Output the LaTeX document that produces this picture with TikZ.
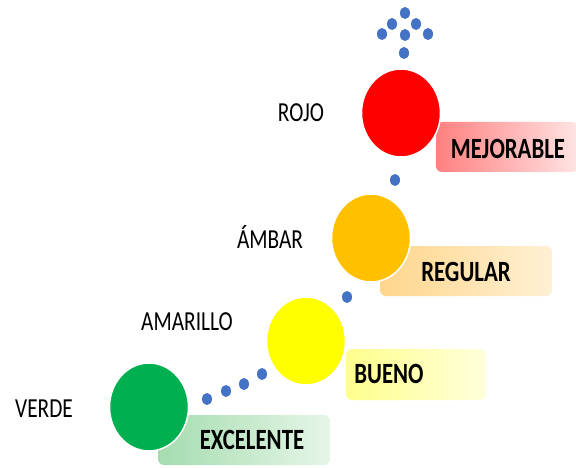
\documentclass[tikz,border=0pt]{standalone}
\usepackage{fontspec}
\setmainfont{Carlito}
\usetikzlibrary{shapes.geometric}
\definecolor{dotblue}{HTML}{4472C4}
\definecolor{cred}{HTML}{FF0000}
\definecolor{camber}{HTML}{FFC000}
\definecolor{cyellow}{HTML}{FFFF00}
\definecolor{cgreen}{HTML}{00B050}
\newcommand{\tall}[1]{\scalebox{0.97}[1.25]{#1}}
\tikzset{
  lamp/.style={ellipse, draw=white, line width=1.5pt, minimum width=79pt, minimum height=88pt, inner sep=0pt},
  tag/.style={rounded corners=6pt},
  tagtext/.style={font=\fontsize{23.5}{26}\selectfont\bfseries, text=black, inner sep=0pt},
  plain/.style={font=\fontsize{22}{26}\selectfont, text=black, inner sep=0pt},
  dot/.style={ellipse, fill=dotblue, minimum width=10pt, minimum height=12pt, inner sep=0pt}
}
\begin{document}
\begin{tikzpicture}[x=1pt,y=-1pt]
\useasboundingbox (0,0) rectangle (576,468);
% tags
\shade[tag, left color={rgb,255:red,255;green,128;blue,128}, right color={rgb,255:red,255;green,228;blue,228}] (436,122) rectangle (578,172);
\shade[tag, left color={rgb,255:red,255;green,214;blue,140}, right color={rgb,255:red,255;green,240;blue,212}] (380,246) rectangle (552,296);
\shade[tag, left color={rgb,255:red,255;green,255;blue,140}, right color={rgb,255:red,255;green,255;blue,220}] (346,349) rectangle (486,400);
\shade[tag, left color={rgb,255:red,165;green,220;blue,175}, right color={rgb,255:red,230;green,246;blue,232}] (158,415) rectangle (330,465);
% lamps
\node[lamp, fill=cred] (rojo) at (401,113) {};
\node[lamp, fill=camber] (ambar) at (371,238) {};
\node[lamp, fill=cyellow] (amarillo) at (306,341) {};
\node[lamp, fill=cgreen] (verde) at (149,407) {};
% tag texts
\node[tagtext] (t1) at (508,149) {\tall{MEJORABLE}};
\node[tagtext] (t2) at (466,272) {\tall{REGULAR}};
\node[tagtext] (t3) at (389,374) {\tall{BUENO}};
\node[tagtext] (t4) at (252,440) {\tall{EXCELENTE}};
% plain labels
\node[plain] (l1) at (301,113) {\tall{ROJO}};
\node[plain] (l2) at (270,237) {\tall{ÁMBAR}};
\node[plain] (l3) at (187,322) {\tall{AMARILLO}};
\node[plain] (l4) at (44,409) {\tall{VERDE}};
% dots
\foreach \n/\x/\y in {a/405/13, b/392/24, c/416/24, d/382/34, e/405/35, f/428/34, g/404/53, h/395/180, i/347/297, j/207/399, k/226/391, l/244/384, m/262/374}
  \node[dot] (d\n) at (\x,\y) {};
\end{tikzpicture}
\end{document}
